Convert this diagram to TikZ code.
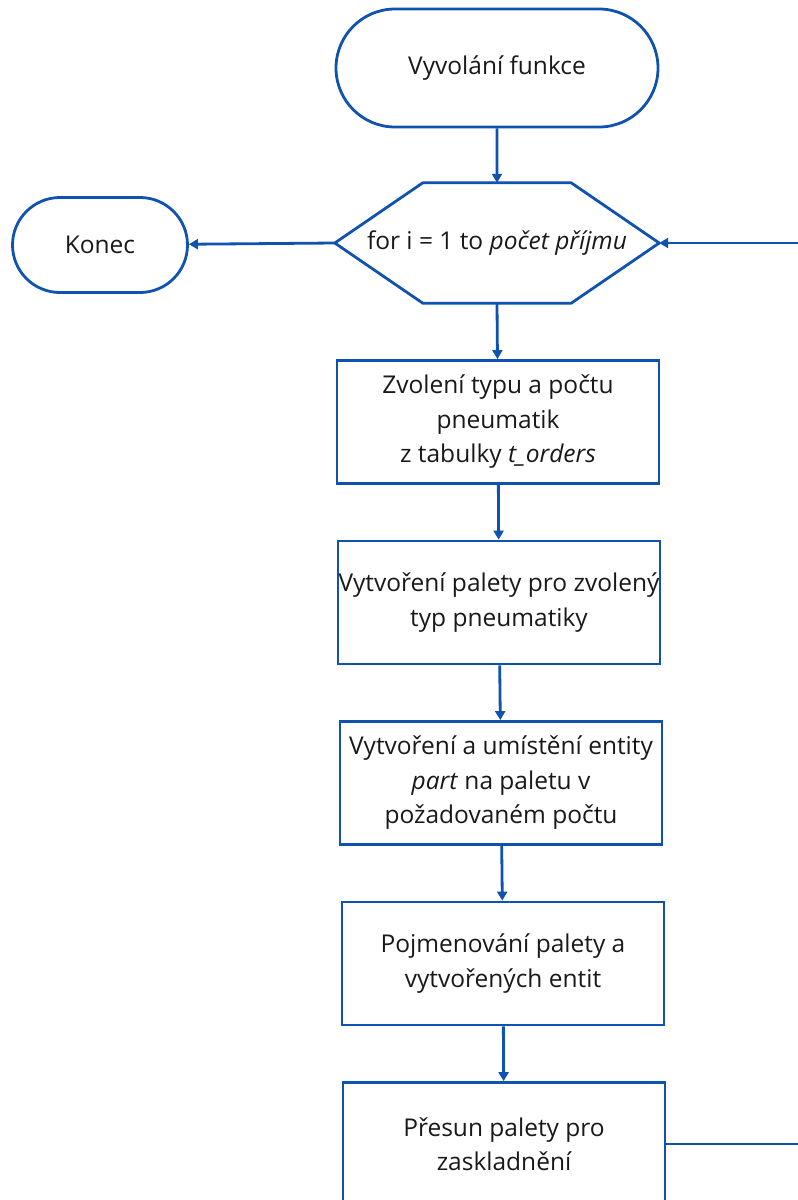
\documentclass[tikz,border=0pt]{standalone}
\usepackage{fontspec}
\setmainfont{Open Sans}
\usetikzlibrary{arrows.meta,shapes.misc}
\definecolor{flowblue}{RGB}{16,82,176}

\begin{document}
\begin{tikzpicture}[x=1pt,y=-1pt,
	every node/.append style={font=\fontsize{24.5}{34.5}\selectfont, text=black!90, align=center, inner sep=0pt},
	term/.style={draw=flowblue, line width=2.8pt, rounded rectangle},
	stepbox/.style={draw=flowblue, line width=2.8pt, rectangle, minimum width=322pt, minimum height=123pt},
	flow/.style={draw=flowblue, line width=2.8pt, -{Triangle[length=9pt,width=10pt]}}]
	\useasboundingbox (0,0) rectangle (798,1200);
	% start and end
	\node[term, minimum width=322pt, minimum height=118pt] (start) at (497,68) {Vyvolání funkce};
	\node[term, minimum width=175pt, minimum height=95pt] (konec) at (100,245) {Konec};
	% loop head (hexagon)
	\node[minimum width=324pt, minimum height=120pt] (loop) at (497,243) {for i = 1 to \textit{počet příjmu}};
	\draw[flowblue, line width=2.8pt, line join=round] (loop.west) -- ([xshift=88pt]loop.north west) -- ([xshift=-88pt]loop.north east)
		-- (loop.east) -- ([xshift=-88pt]loop.south east) -- ([xshift=88pt]loop.south west) -- cycle;
	% loop body
	\node[stepbox] (zvol) at (498,422) {Zvolení typu a počtu\\pneumatik\\z tabulky \textit{t\_orders}};
	\node[stepbox] (paleta) at (499,602.5) {Vytvoření palety pro zvolený\\typ pneumatiky};
	\node[stepbox] (entita) at (501,783) {Vytvoření a umístění entity\\\textit{part} na paletu v\\požadovaném počtu};
	\node[stepbox] (jmeno) at (503,963.5) {Pojmenování palety a\\vytvořených entit};
	\node[stepbox] (presun) at (504,1144) {Přesun palety pro\\zaskladnění};
	\coordinate (back) at (840,1144);
	% connectors
	\draw[flow] (start) -- (loop.north);
	\draw[flow] (loop.west) -- (konec);
	\draw[flow] (loop.south) -- (zvol);
	\draw[flow] (zvol) -- (paleta);
	\draw[flow] (paleta) -- (entita);
	\draw[flow] (entita) -- (jmeno);
	\draw[flow] (jmeno) -- (presun);
	\draw[flow] (presun.east) -- (back) |- (loop.east);
\end{tikzpicture}
\end{document}
